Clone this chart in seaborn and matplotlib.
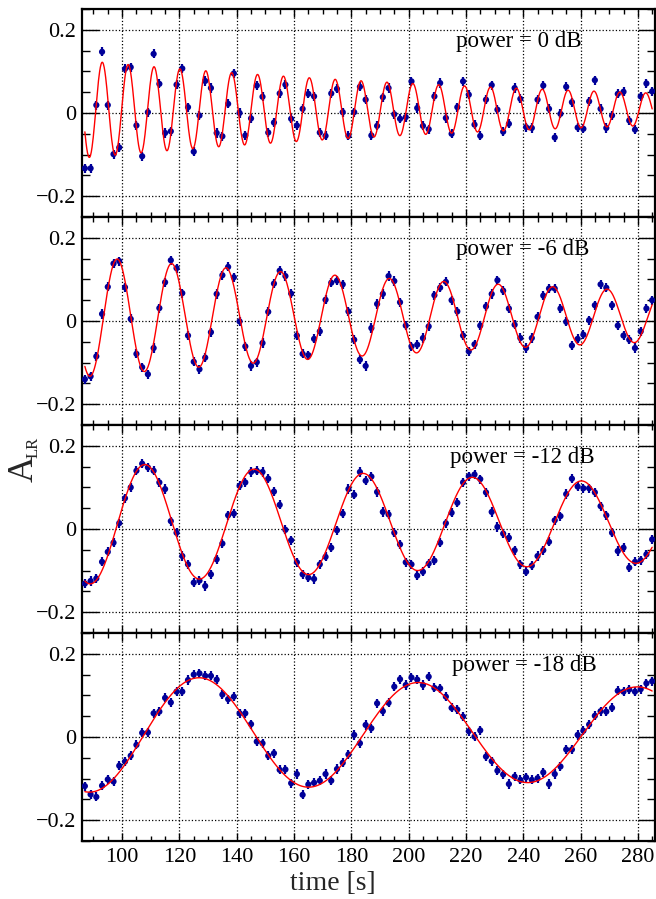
import numpy as np
import matplotlib
matplotlib.use("Agg")
import matplotlib.pyplot as plt
import seaborn as sns
from matplotlib.ticker import MultipleLocator, FuncFormatter

sns.set_theme(style="ticks")
plt.rcParams['font.family'] = ['Liberation Serif', 'DejaVu Serif']

# measurement times [s], one point every 2 s
time_s = np.arange(87, 286, 2)

power_labels = ['power = 0 dB', 'power = -6 dB', 'power = -12 dB', 'power = -18 dB']

a_lr_0db = [
    -0.133, -0.133, 0.019, 0.147, 0.019, -0.099, -0.083, 0.106, 0.110, -0.030,
    -0.104, 0.002, 0.142, 0.070, -0.048, -0.044, 0.068, 0.107, 0.014, -0.093,
    -0.006, 0.077, 0.060, -0.048, -0.056, 0.022, 0.095, 0.000, -0.054, -0.013,
    0.066, 0.039, -0.047, -0.023, 0.047, 0.068, -0.014, -0.030, 0.010, 0.046,
    0.040, -0.047, -0.055, 0.047, 0.058, 0.002, -0.055, 0.002, 0.063, 0.032,
    -0.054, -0.031, 0.038, 0.060, -0.003, -0.014, -0.010, 0.076, 0.012, -0.031,
    -0.039, 0.040, 0.072, -0.012, -0.050, 0.014, 0.076, 0.044, -0.028, -0.055,
    0.032, 0.067, 0.008, -0.045, -0.026, 0.060, 0.034, -0.034, -0.036, 0.032,
    0.066, 0.010, -0.059, -0.002, 0.063, 0.026, -0.035, -0.038, 0.028, 0.079,
    0.010, -0.036, -0.006, 0.046, 0.051, -0.018, -0.040, 0.040, 0.071, 0.052,
]
a_lr_6db = [
    -0.140, -0.133, -0.085, 0.017, 0.082, 0.138, 0.144, 0.081, 0.005, -0.079,
    -0.111, -0.128, -0.065, 0.031, 0.093, 0.146, 0.127, 0.067, -0.035, -0.098,
    -0.116, -0.088, -0.027, 0.065, 0.110, 0.130, 0.105, -0.001, -0.061, -0.108,
    -0.099, -0.053, 0.022, 0.090, 0.121, 0.108, 0.066, -0.035, -0.079, -0.082,
    -0.043, -0.025, 0.051, 0.092, 0.097, 0.088, 0.023, -0.045, -0.093, -0.108,
    -0.017, 0.041, 0.065, 0.108, 0.096, 0.045, -0.011, -0.061, -0.057, -0.041,
    -0.013, 0.062, 0.080, 0.094, 0.050, 0.023, -0.035, -0.073, -0.056, -0.011,
    0.035, 0.065, 0.098, 0.073, 0.030, -0.009, -0.041, -0.065, -0.041, 0.010,
    0.061, 0.078, 0.078, 0.030, -0.002, -0.059, -0.043, -0.033, 0.002, 0.038,
    0.088, 0.080, 0.038, -0.011, -0.035, -0.045, -0.065, -0.025, 0.030, 0.050,
]
a_lr_12db = [
    -0.131, -0.125, -0.119, -0.079, -0.055, -0.033, 0.014, 0.074, 0.100, 0.140,
    0.157, 0.148, 0.140, 0.112, 0.096, 0.019, -0.009, -0.065, -0.085, -0.129,
    -0.124, -0.137, -0.109, -0.073, -0.035, 0.033, 0.037, 0.104, 0.112, 0.137,
    0.140, 0.137, 0.121, 0.090, 0.058, -0.002, -0.027, -0.080, -0.109, -0.117,
    -0.120, -0.085, -0.067, -0.045, -0.003, 0.037, 0.096, 0.082, 0.137, 0.116,
    0.126, 0.089, 0.041, 0.035, -0.009, -0.037, -0.080, -0.085, -0.112, -0.103,
    -0.083, -0.076, -0.033, 0.014, 0.039, 0.063, 0.112, 0.127, 0.131, 0.120,
    0.088, 0.041, 0.005, -0.011, -0.021, -0.051, -0.085, -0.103, -0.088, -0.065,
    -0.051, -0.031, 0.021, 0.031, 0.084, 0.121, 0.102, 0.098, 0.098, 0.088,
    0.055, 0.033, -0.009, -0.053, -0.045, -0.093, -0.079, -0.075, -0.061, -0.025,
]
a_lr_18db = [
    -0.118, -0.138, -0.144, -0.117, -0.102, -0.107, -0.069, -0.059, -0.045, -0.019,
    0.010, 0.011, 0.057, 0.061, 0.094, 0.083, 0.109, 0.109, 0.137, 0.150,
    0.153, 0.147, 0.147, 0.138, 0.102, 0.091, 0.097, 0.057, 0.057, 0.031,
    -0.011, -0.015, -0.045, -0.039, -0.079, -0.078, -0.111, -0.089, -0.139, -0.114,
    -0.110, -0.105, -0.089, -0.105, -0.077, -0.062, -0.042, 0.005, -0.015, 0.029,
    0.021, 0.081, 0.062, 0.082, 0.121, 0.139, 0.125, 0.143, 0.138, 0.125,
    0.145, 0.118, 0.117, 0.097, 0.070, 0.066, 0.049, 0.014, 0.001, 0.016,
    -0.047, -0.058, -0.081, -0.090, -0.113, -0.095, -0.103, -0.097, -0.103, -0.099,
    -0.085, -0.113, -0.089, -0.071, -0.030, -0.030, 0.005, 0.015, 0.030, 0.051,
    0.062, 0.061, 0.070, 0.111, 0.109, 0.114, 0.109, 0.115, 0.129, 0.134,
]
point_err = 0.011

# damped-cosine fit parameters
fit_amp = [0.1175, 0.1456, 0.1473, 0.141]     # amplitude at t = 86 s
fit_tau = [180.0, 230.0, 463.0, 860.0]        # damping time [s]
fit_period = [9.033, 19.0, 38.1, 76.5]        # period [s]
fit_peak = [93.08, 98.3, 108.0, 127.0]        # time of a maximum [s]
fit_offset = [0.009, 0.011, 0.0145, 0.008]

all_data = [a_lr_0db, a_lr_6db, a_lr_12db, a_lr_18db]
label_x = [216.7, 216.7, 214.3, 215.3]

NAVY = '#000099'

fig, axes = plt.subplots(4, 1, sharex=True, figsize=(6.56, 8.99), dpi=100)
fig.subplots_adjust(left=0.125, right=0.9985, top=0.99, bottom=0.0645, hspace=0)

t_fit = np.linspace(87, 285, 1500)

for i, ax in enumerate(axes):
    y = np.array(all_data[i])
    ax.errorbar(time_s, y, yerr=point_err, fmt='none', ecolor=NAVY,
                elinewidth=1.6, capsize=0, zorder=4)
    sns.scatterplot(x=time_s, y=y, color=NAVY, s=20, edgecolor='none',
                    ax=ax, zorder=4)

    y_fit = fit_offset[i] + fit_amp[i] * np.exp(-(t_fit - 86) / fit_tau[i]) * \
        np.cos(2 * np.pi * (t_fit - fit_peak[i]) / fit_period[i])
    sns.lineplot(x=t_fit, y=y_fit, color='red', linewidth=1.0, ax=ax,
                 zorder=5, sort=False)

    ax.set_xlim(86, 286)
    ax.set_ylim(-0.25, 0.25)
    ax.xaxis.set_major_locator(MultipleLocator(20))
    ax.xaxis.set_minor_locator(MultipleLocator(5))
    ax.yaxis.set_major_locator(MultipleLocator(0.2))
    ax.yaxis.set_minor_locator(MultipleLocator(0.05))
    ax.yaxis.set_major_formatter(FuncFormatter(
        lambda v, _: '0' if abs(v) < 1e-9 else f'{v:.1f}'.replace('-', '\u2212')))
    ax.tick_params(which='both', direction='in', top=True, right=True,
                   colors='black', labelsize=16)
    ax.tick_params(axis='y', which='major', length=12, width=1.0, pad=4)
    ax.tick_params(axis='y', which='minor', length=6, width=1.0)
    ax.tick_params(axis='x', which='major', length=6, width=1.0, pad=5)
    ax.tick_params(axis='x', which='minor', length=3.5, width=1.0)
    ax.grid(True, which='major', color='black', linestyle=':', linewidth=0.9)
    for sp in ax.spines.values():
        sp.set_linewidth(1.6)
        sp.set_color('black')
    ax.set_xlabel('')
    ax.set_ylabel('')
    ax.text(label_x[i], 0.173, power_labels[i], fontsize=16.5, va='center',
            ha='left', color='black')

fig.text(333 / 656, 1 - 884 / 899, 'time [s]', ha='center', va='center',
         fontsize=20)
fig.text(24 / 656, 1 - 469 / 899, 'A', ha='center', va='center',
         rotation=90, fontsize=26)
fig.text(34 / 656, 1 - 447 / 899, 'LR', ha='center', va='center',
         rotation=90, fontsize=12)

fig.savefig('out.png', dpi=100)
